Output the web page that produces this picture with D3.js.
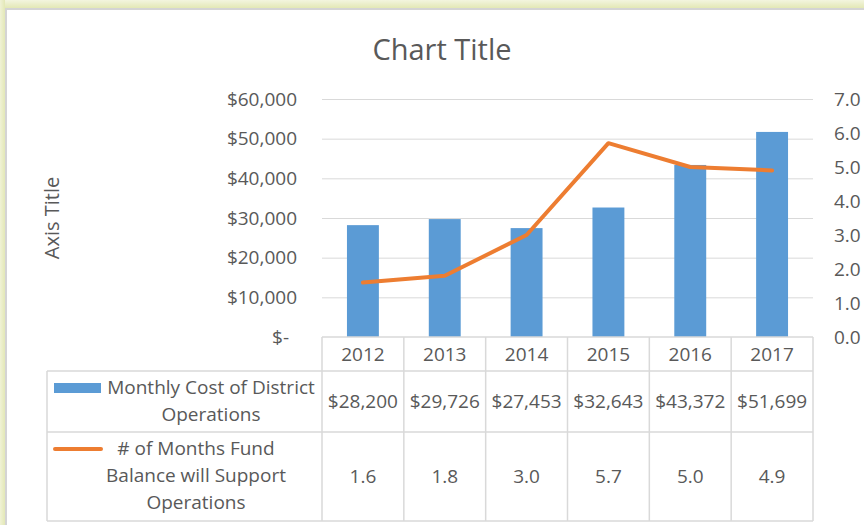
<!DOCTYPE html>
<html><head><meta charset="utf-8">
<script src="https://cdn.jsdelivr.net/npm/d3@7"></script>
<style>html,body{margin:0;padding:0;background:#fff;}svg{display:block;}</style>
</head><body>
<svg id="chart" width="864" height="525"></svg>
<script>
const years = ["2012", "2013", "2014", "2015", "2016", "2017"];
const monthlyCost = [28200, 29726, 27453, 32643, 43372, 51699];
const monthsFund = [1.6, 1.8, 3.0, 5.7, 5.0, 4.9];
const leftTicks = [0, 10000, 20000, 30000, 40000, 50000, 60000];
const rightTicks = [0, 1, 2, 3, 4, 5, 6, 7];
const costLabelLines = ["Monthly Cost of District", "Operations"];
const fundLabelLines = ["# of Months Fund", "Balance will Support", "Operations"];
const chartTitle = "Chart Title";
const axisTitle = "Axis Title";

const W = 864, H = 525;
const FONT = "'Open Sans', 'Noto Sans', sans-serif";
const FS = 19;
const TXT = "#595959";
const GRID = "#d9d9d9";
const BLUE = "#5b9bd5";
const ORANGE = "#ed7d31";

const svg = d3.select("#chart");

// frame background
const defs = svg.append("defs");
const gTop = defs.append("linearGradient").attr("id", "gtop").attr("x1", 0).attr("y1", 0).attr("x2", 0).attr("y2", 1);
gTop.append("stop").attr("offset", "0%").attr("stop-color", "#f3f5df");
gTop.append("stop").attr("offset", "100%").attr("stop-color", "#e3e8b6");
const gLeft = defs.append("linearGradient").attr("id", "gleft").attr("x1", 0).attr("y1", 0).attr("x2", 1).attr("y2", 0);
gLeft.append("stop").attr("offset", "0%").attr("stop-color", "#f0f2d6");
gLeft.append("stop").attr("offset", "100%").attr("stop-color", "#e3e8b6");
svg.append("rect").attr("x", 0).attr("y", 0).attr("width", W).attr("height", 8).attr("fill", "url(#gtop)");
svg.append("rect").attr("x", 0).attr("y", 0).attr("width", 5).attr("height", H).attr("fill", "url(#gleft)");
svg.append("rect").attr("x", 5).attr("y", 8).attr("width", W - 5).attr("height", H - 8).attr("fill", "#d4d4d4");
svg.append("rect").attr("x", 7).attr("y", 10).attr("width", W - 7).attr("height", H - 10).attr("fill", "#ffffff");

// layout
const plotL = 322, plotR = 813, plotT = 99, plotB = 337;
const x = d3.scaleBand().domain(years).range([plotL, plotR]).paddingInner(0).paddingOuter(0);
const yL = d3.scaleLinear().domain([0, 60000]).range([plotB, plotT]);
const yR = d3.scaleLinear().domain([0, 7]).range([plotB, plotT]);

// title
svg.append("text").attr("x", 442).attr("y", 60).attr("text-anchor", "middle")
  .attr("font-family", FONT).attr("font-size", 29).attr("fill", TXT).text(chartTitle);

// axis title
svg.append("text").attr("transform", "translate(59,218) rotate(-90)").attr("text-anchor", "middle")
  .attr("font-family", FONT).attr("font-size", 20).attr("fill", TXT).text(axisTitle);

// gridlines
svg.append("g").selectAll("line").data(leftTicks.filter(d => d > 0)).join("line")
  .attr("x1", plotL).attr("x2", plotR)
  .attr("y1", d => yL(d) + 0.5).attr("y2", d => yL(d) + 0.5)
  .attr("stroke", GRID).attr("stroke-width", 1);

// left axis
const fmtL = d => d === 0 ? "$-" : "$" + d3.format(",")(d);
const axL = svg.append("g").attr("transform", `translate(${plotL - 25},0)`)
  .call(d3.axisLeft(yL).tickValues(leftTicks).tickFormat(fmtL).tickSize(0).tickPadding(0));
axL.select(".domain").remove();
axL.selectAll("text").attr("font-family", FONT).attr("font-size", FS).attr("fill", TXT)
  .attr("dx", d => d === 0 ? -8 : 0);

// right axis
const axR = svg.append("g").attr("transform", `translate(${plotR + 21},0)`)
  .call(d3.axisRight(yR).tickValues(rightTicks).tickFormat(d3.format(".1f")).tickSize(0).tickPadding(0));
axR.select(".domain").remove();
axR.selectAll("text").attr("font-family", FONT).attr("font-size", FS).attr("fill", TXT);

// bars
const barW = x.bandwidth() * 0.39;
svg.append("g").selectAll("rect").data(years).join("rect")
  .attr("x", d => x(d) + x.bandwidth() / 2 - barW / 2)
  .attr("width", barW)
  .attr("y", (d, i) => yL(monthlyCost[i]))
  .attr("height", (d, i) => plotB - yL(monthlyCost[i]))
  .attr("fill", BLUE);

// line
const line = d3.line().x(d => x(d[0]) + x.bandwidth() / 2).y(d => yR(d[1]));
svg.append("path").datum(years.map((y, i) => [y, monthsFund[i]]))
  .attr("d", line).attr("fill", "none").attr("stroke", ORANGE)
  .attr("stroke-width", 4).attr("stroke-linejoin", "round").attr("stroke-linecap", "round");

// data table
const tblL = 47;
const rowY = [plotB, 371, 432, 521];
const tg = svg.append("g").attr("stroke", GRID).attr("stroke-width", 1.5).attr("fill", "none");
tg.append("line").attr("x1", plotL).attr("x2", plotR).attr("y1", rowY[0]).attr("y2", rowY[0]);
[rowY[1], rowY[2], rowY[3]].forEach(yy => {
  tg.append("line").attr("x1", tblL).attr("x2", plotR).attr("y1", yy).attr("y2", yy);
});
tg.append("line").attr("x1", tblL).attr("x2", tblL).attr("y1", rowY[1]).attr("y2", rowY[3]);
years.concat(["end"]).forEach((d, i) => {
  const xx = plotL + i * x.bandwidth();
  tg.append("line").attr("x1", xx).attr("x2", xx).attr("y1", rowY[0]).attr("y2", rowY[3]);
});

const txt = (xx, yy, s, anchor = "middle") => svg.append("text").attr("x", xx).attr("y", yy)
  .attr("text-anchor", anchor).attr("dominant-baseline", "central")
  .attr("font-family", FONT).attr("font-size", FS).attr("fill", TXT).text(s);

years.forEach((d, i) => {
  const cx = x(d) + x.bandwidth() / 2;
  txt(cx, 354, d);
  txt(cx, 401, "$" + d3.format(",")(monthlyCost[i]));
  txt(cx, 476, d3.format(".1f")(monthsFund[i]));
});

// row headers
costLabelLines.forEach((s, i) => txt(211, 387 + i * 27, s));
fundLabelLines.forEach((s, i) => txt(196, 448 + i * 27, s));

// legend keys
svg.append("rect").attr("x", 54).attr("y", 383).attr("width", 47).attr("height", 10).attr("fill", BLUE);
svg.append("line").attr("x1", 55).attr("x2", 101).attr("y1", 449).attr("y2", 449)
  .attr("stroke", ORANGE).attr("stroke-width", 4).attr("stroke-linecap", "round");
</script>
</body></html>
